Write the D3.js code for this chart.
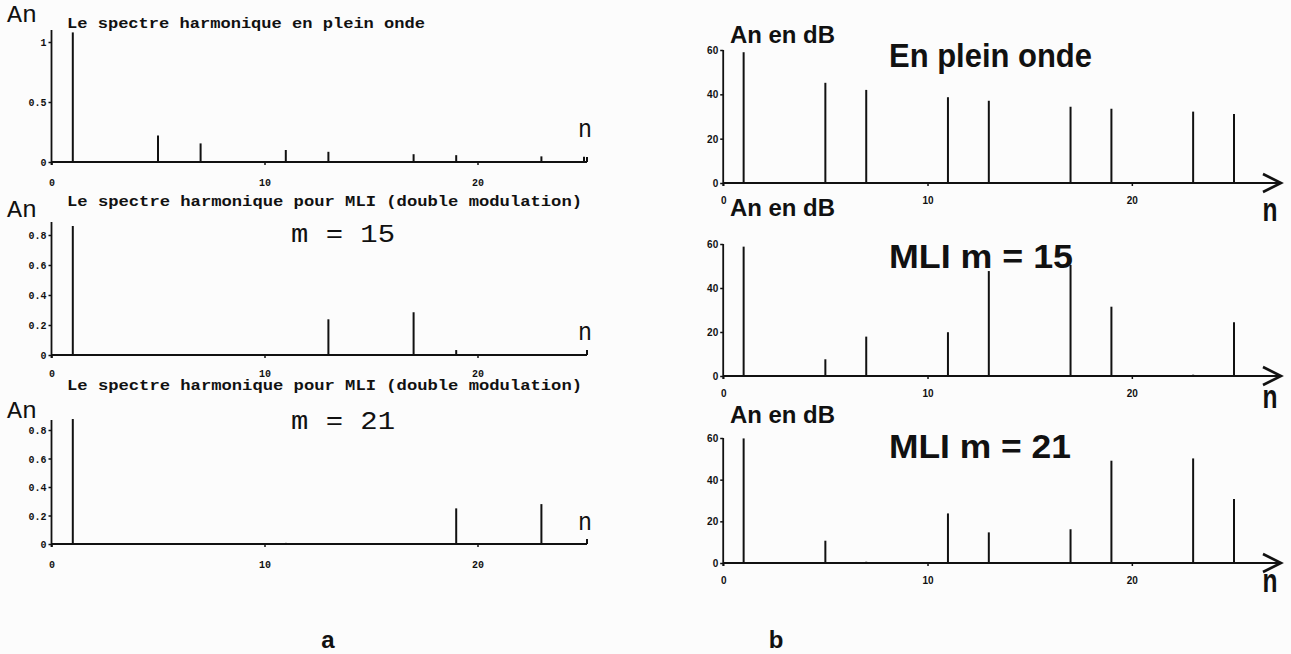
<!DOCTYPE html>
<html>
<head>
<meta charset="utf-8">
<script src="https://cdn.jsdelivr.net/npm/d3@7"></script>
<style>
    body { margin: 0; background: #fcfcfc; }
    svg { display: block; }
    .tick text { font-weight: bold; fill: #111; }
</style>
</head>
<body>
<svg id="chart" width="1291" height="654"></svg>
<script>
// harmonic ranks and amplitudes
const harmonics = [1, 5, 7, 11, 13, 17, 19, 23, 25];

// (a) linear amplitudes
const ampPleinOnde = [1.08, 0.22, 0.155, 0.10, 0.085, 0.065, 0.057, 0.047, 0.043];
const harmonicsMli15 = [1, 13, 17, 19];
const ampMli15 = [0.86, 0.238, 0.285, 0.033];
const harmonicsMli21 = [1, 11, 19, 23];
const ampMli21 = [0.877, 0.008, 0.25, 0.28];

// (b) amplitudes in dB
const dbPleinOnde = [59, 45.2, 42, 38.7, 37.1, 34.4, 33.5, 32.2, 31.1];
const dbMli15 = [58.8, 7.6, 17.9, 19.9, 47.7, 50.5, 31.5, 0.6, 24.4];
const dbMli21 = [59.8, 10.7, 0.6, 23.8, 14.7, 16.2, 49.1, 50.2, 30.7];

const xTicks = [0, 10, 20];
const yTicksPlein = [0, 0.5, 1];
const yTicksMli = [0, 0.2, 0.4, 0.6, 0.8];
const yTicksDb = [0, 20, 40, 60];

const titleA1 = 'Le spectre harmonique en plein onde';
const titleA2 = 'Le spectre harmonique pour MLI (double modulation)';

const svg = d3.select('#chart');
const ink = '#111';

function drawPanel(p) {
    const g = svg.append('g');
    const x = d3.scaleLinear().domain([0, 25]).range(p.xRange);
    const y = d3.scaleLinear().domain(p.yDomain).range(p.yRange);

    // axes (ticks + labels only, lines drawn by hand)
    const ax = g.append('g')
        .attr('transform', `translate(0,${y(0)})`)
        .call(d3.axisBottom(x).tickValues(xTicks).tickSize(3).tickPadding(p.xPad).tickFormat(d3.format('d')));
    const ay = g.append('g')
        .attr('transform', `translate(${x(0)},0)`)
        .call(d3.axisLeft(y).tickValues(p.yTicks).tickSize(3).tickPadding(2).tickFormat(p.yFormat));
    [ax, ay].forEach(a => {
        a.select('.domain').remove();
        a.selectAll('line').attr('stroke', ink).attr('stroke-width', 1.5);
        a.selectAll('text').attr('font-family', p.tickFont).attr('font-size', p.tickSize);
    });
    ay.selectAll('text').attr('dy', '0.35em');

    g.append('line')
        .attr('x1', x(0)).attr('x2', x(0))
        .attr('y1', y(0) + 3).attr('y2', p.yTop)
        .attr('stroke', ink).attr('stroke-width', 1.8);
    g.append('line')
        .attr('x1', x(0)).attr('x2', p.xEnd)
        .attr('y1', y(0)).attr('y2', y(0))
        .attr('stroke', ink).attr('stroke-width', 2.2);

    if (p.arrow) {
        g.append('path')
            .attr('d', `M${p.xEnd - 18},${y(0) - 9} L${p.xEnd},${y(0)} L${p.xEnd - 18},${y(0) + 9}`)
            .attr('fill', 'none').attr('stroke', ink).attr('stroke-width', 2.6);
    } else {
        g.append('line')
            .attr('x1', p.xEnd).attr('x2', p.xEnd)
            .attr('y1', y(0)).attr('y2', y(0) - 5)
            .attr('stroke', ink).attr('stroke-width', 2);
    }

    // spectral lines
    g.selectAll('line.stem')
        .data(p.ranks.map((n, i) => ({ n, v: p.values[i] })))
        .enter()
        .append('line')
        .attr('class', 'stem')
        .attr('x1', d => x(d.n)).attr('x2', d => x(d.n))
        .attr('y1', y(0)).attr('y2', d => y(d.v))
        .attr('stroke', ink).attr('stroke-width', 2);

    return { x, y, g };
}

// ---- (a) linear spectra
const leftBase = { xRange: [51.5, 584], xEnd: 587, xPad: 14, tickFont: 'Liberation Mono', tickSize: 10, arrow: false };
const panels = [
    { ...leftBase, yDomain: [0, 1], yRange: [162, 42], yTop: 30, yTicks: yTicksPlein, yFormat: d => d === 0.5 ? '0.5' : d3.format('d')(d), ranks: harmonics, values: ampPleinOnde },
    { ...leftBase, yDomain: [0, 0.8], yRange: [355, 235], yTop: 222, yTicks: yTicksMli, yFormat: d => d === 0 ? '0' : d3.format('.1f')(d), ranks: harmonicsMli15, values: ampMli15, xPad: 12 },
    { ...leftBase, yDomain: [0, 0.8], yRange: [544, 430], yTop: 420, yTicks: yTicksMli, yFormat: d => d === 0 ? '0' : d3.format('.1f')(d), ranks: harmonicsMli21, values: ampMli21 }
];

// ---- (b) dB spectra
const rightBase = { xRange: [723.2, 1234], xEnd: 1281, xPad: 11, tickFont: 'Liberation Sans', tickSize: 10, arrow: true, yTicks: yTicksDb, yFormat: d3.format('d'), ranks: harmonics };
panels.push(
    { ...rightBase, yDomain: [0, 60], yRange: [183, 50], yTop: 50, values: dbPleinOnde },
    { ...rightBase, yDomain: [0, 60], yRange: [376, 244], yTop: 244, values: dbMli15 },
    { ...rightBase, yDomain: [0, 60], yRange: [563, 438], yTop: 438, values: dbMli21 }
);

panels.forEach(drawPanel);

// ---- labels
function label(txt, x, y, opts) {
    const t = svg.append('text')
        .attr('x', x).attr('y', y)
        .attr('fill', ink)
        .attr('font-family', opts.font)
        .attr('font-size', opts.size)
        .attr('font-weight', opts.weight || 'normal')
        .attr('text-anchor', opts.anchor || 'start')
        .text(txt);
    if (opts.len) t.attr('textLength', opts.len).attr('lengthAdjust', 'spacingAndGlyphs');
    return t;
}

const mono = { font: 'Liberation Mono', size: 15, weight: 'bold' };
label(titleA1, 67, 28, { ...mono, len: 358 });
label(titleA2, 67, 206, { ...mono, len: 515 });
label(titleA2, 67, 390, { ...mono, len: 515 });

const anOpts = { font: 'Liberation Mono', size: 24, len: 30 };
label('An', 7, 22, anOpts);
label('An', 7, 217, anOpts);
label('An', 7, 418, anOpts);
const nLeft = { font: 'Liberation Mono', size: 25, len: 14 };
label('n', 578, 137, nLeft);
label('n', 578, 340, nLeft);
label('n', 578, 530, nLeft);
label('m = 15', 291, 242, { font: 'Liberation Mono', size: 25, len: 104 });
label('m = 21', 291, 429, { font: 'Liberation Mono', size: 25, len: 104 });

const sans = { font: 'Liberation Sans', size: 24, weight: 'bold', len: 105 };
label('An en dB', 730, 43, sans);
label('An en dB', 730, 216, sans);
label('An en dB', 730, 423, sans);
const big = { font: 'Liberation Sans', size: 33, weight: 'bold' };
label('En plein onde', 889, 67, { ...big, len: 203 });
label('MLI   m = 15', 889, 268, { ...big, len: 184 });
label('MLI   m = 21', 889, 458, { ...big, len: 182 });
const nOpts = { font: 'Liberation Sans', size: 34, weight: 'bold', anchor: 'middle', len: 15 };
label('n', 1270, 221, nOpts);
label('n', 1270, 408, nOpts);
label('n', 1270, 592, nOpts);

label('a', 328, 648, { font: 'Liberation Sans', size: 24, weight: 'bold', anchor: 'middle' });
label('b', 776, 648, { font: 'Liberation Sans', size: 24, weight: 'bold', anchor: 'middle' });
</script>
</body>
</html>
